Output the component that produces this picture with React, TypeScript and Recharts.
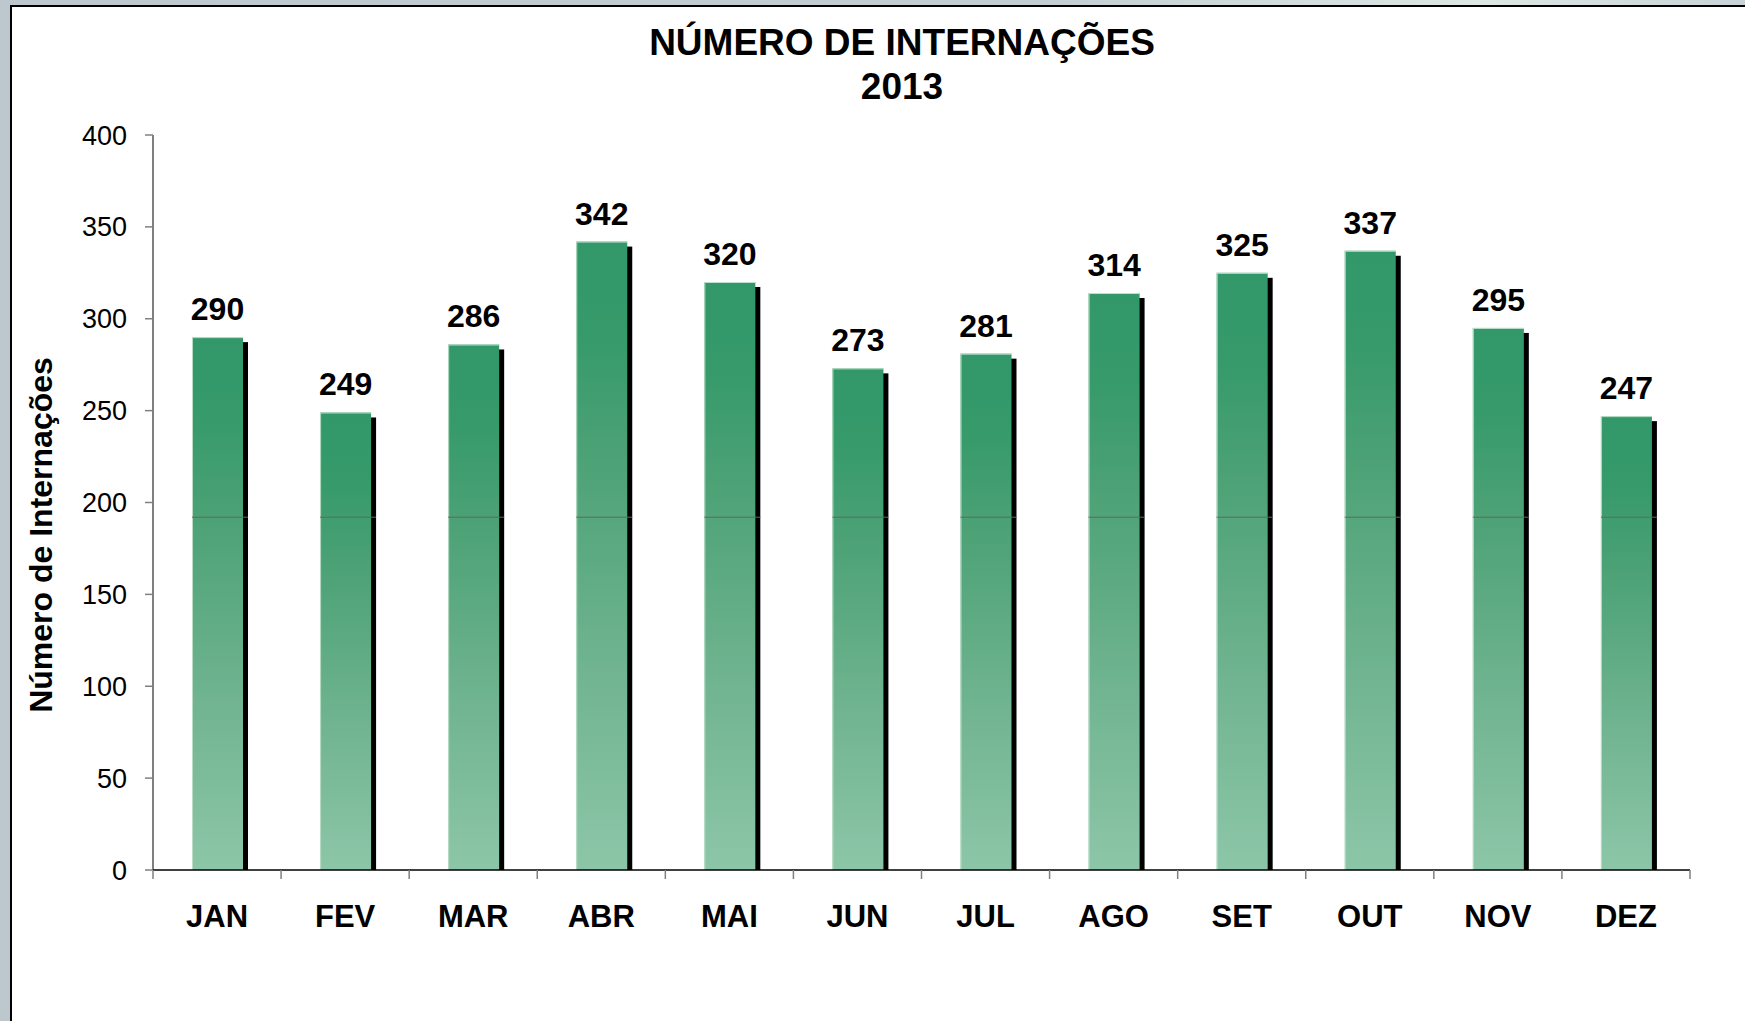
import React from 'react';
import { BarChart, Bar, XAxis, YAxis, LabelList } from 'recharts';

const months = ['JAN', 'FEV', 'MAR', 'ABR', 'MAI', 'JUN', 'JUL', 'AGO', 'SET', 'OUT', 'NOV', 'DEZ'];
const internacoes = [290, 249, 286, 342, 320, 273, 281, 314, 325, 337, 295, 247];
const yTicks = [0, 50, 100, 150, 200, 250, 300, 350, 400];
const bandValue = 192;

const data = months.map((m, i) => ({ month: m, value: internacoes[i] }));

const FONT = '"Liberation Sans", Arial, Helvetica, sans-serif';

const BarShape = (props: any) => {
  const { x, y, width, height, value } = props;
  if (!height || height <= 0) return null;
  const bottom = y + height;
  const lineY = bottom - (bandValue * height) / value;
  return (
    <g>
      <rect x={x + 5} y={y + 5} width={width} height={height - 5} fill="#000" />
      <rect x={x} y={y} width={width} height={height} fill="url(#barGrad)" />
      <line x1={x} x2={x + width} y1={y + 0.5} y2={y + 0.5} stroke="#bfe0cc" strokeWidth={1} />
      <line x1={x + 0.5} x2={x + 0.5} y1={y} y2={bottom} stroke="#b8dcc6" strokeWidth={1} />
      {value > bandValue && (
        <line x1={x} x2={x + width + 5} y1={lineY} y2={lineY} stroke="#5b6a61" strokeWidth={1} />
      )}
    </g>
  );
};

const XTick = (props: any) => {
  const { x, y, payload, index, width, visibleTicksCount } = props;
  const half = payload && payload.offset > 0 ? payload.offset : width / visibleTicksCount / 2;
  const last = index === visibleTicksCount - 1;
  return (
    <g>
      <line x1={x - half} x2={x - half} y1={y} y2={y + 9} stroke="#808080" strokeWidth={1.5} />
      {last && <line x1={x + half} x2={x + half} y1={y} y2={y + 9} stroke="#808080" strokeWidth={1.5} />}
      <text x={x} y={y + 57} textAnchor="middle" fontFamily={FONT} fontWeight="bold" fontSize={31} fill="#000">
        {payload.value}
      </text>
    </g>
  );
};

export default function App() {
  return (
    <div style={{ position: 'absolute', left: 0, top: 0, width: 1745, height: 1021, overflow: 'hidden', background: 'linear-gradient(90deg, #bcc8cd 0%, #c3ced2 60%, #dde8e4 85%, #c7d3d6 100%)' }}>
      <div style={{ position: 'absolute', left: 0, top: 5, width: 10, height: 1016, background: '#bcc8cd' }} />
      <div style={{ position: 'absolute', left: 10, top: 5, right: 0, bottom: 0, background: '#fff', borderLeft: '2px solid #000', borderTop: '2px solid #000' }} />
      <div style={{ position: 'absolute', left: 0, top: 0 }}>
        <BarChart width={1745} height={1021} data={data} margin={{ top: 135, right: 55, bottom: 91, left: 0 }}>
          <defs>
            <linearGradient id="barGrad" x1="0" y1="0" x2="0" y2="1">
              <stop offset="0%" stopColor="#32986a" />
              <stop offset="15%" stopColor="#369a6a" />
              <stop offset="35%" stopColor="#4da276" />
              <stop offset="70%" stopColor="#72b592" />
              <stop offset="100%" stopColor="#8cc6a8" />
            </linearGradient>
          </defs>
          <XAxis
            dataKey="month"
            height={60}
            axisLine={{ stroke: '#000', strokeWidth: 1.5 }}
            tickLine={false}
            tickSize={0}
            tickMargin={0}
            interval={0}
            tick={<XTick />}
          />
          <YAxis
            width={153}
            domain={[0, 400]}
            ticks={yTicks}
            interval={0}
            axisLine={{ stroke: '#000', strokeWidth: 1 }}
            tickLine={{ stroke: '#808080', strokeWidth: 1.5 }}
            tickSize={8}
            tickMargin={18}
            tick={{ fontFamily: FONT, fontSize: 27, fill: '#000' }}
          />
          <Bar dataKey="value" barSize={51} shape={<BarShape />} isAnimationActive={false}>
            <LabelList dataKey="value" position="top" offset={17} style={{ fontFamily: FONT, fontWeight: 'bold', fontSize: 32, fill: '#000' }} />
          </Bar>
        </BarChart>
      </div>
      <div style={{ position: 'absolute', left: 402, top: 21, width: 1000, textAlign: 'center', fontFamily: FONT, fontWeight: 'bold', fontSize: 37, lineHeight: '44px', color: '#000' }}>
        <div>NÚMERO DE INTERNAÇÕES</div>
        <div>2013</div>
      </div>
      <div style={{ position: 'absolute', left: 41, top: 535, transform: 'translate(-50%, -50%) rotate(-90deg)', whiteSpace: 'nowrap', fontFamily: FONT, fontWeight: 'bold', fontSize: 32, color: '#000' }}>
        Número de Internações
      </div>
    </div>
  );
}
